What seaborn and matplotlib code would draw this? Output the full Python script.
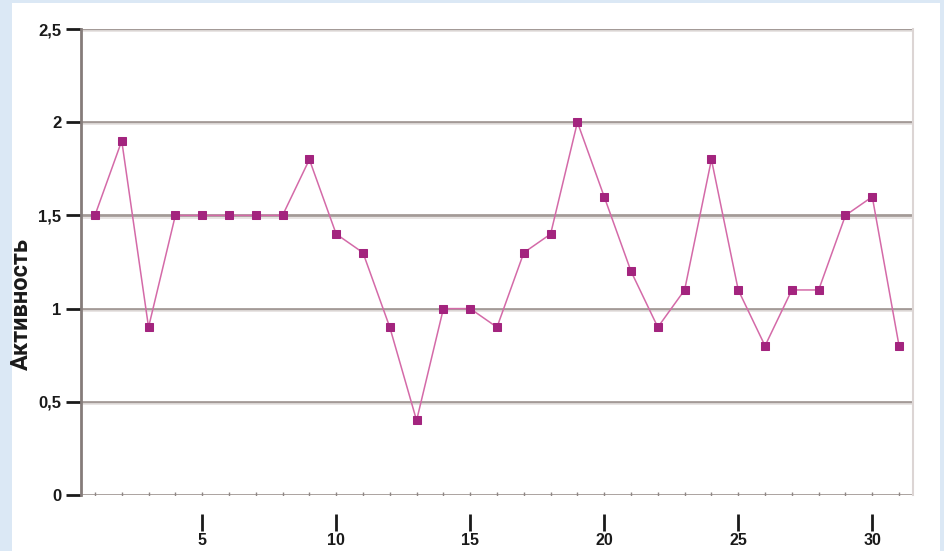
import matplotlib
matplotlib.use("Agg")
import matplotlib.pyplot as plt
import matplotlib.patches as mpatches
import seaborn as sns
import pandas as pd

days = list(range(1, 32))
activity = [1.5, 1.9, 0.9, 1.5, 1.5, 1.5, 1.5, 1.5, 1.8, 1.4, 1.3, 0.9, 0.4,
            1.0, 1.0, 0.9, 1.3, 1.4, 2.0, 1.6, 1.2, 0.9, 1.1, 1.8, 1.1, 0.8,
            1.1, 1.1, 1.5, 1.6, 0.8]
x_ticks = [5, 10, 15, 20, 25, 30]
y_ticks = [0, 0.5, 1, 1.5, 2, 2.5]
y_tick_labels = ["0", "0,5", "1", "1,5", "2", "2,5"]
y_title = "Активность"

df = pd.DataFrame({"day": days, "activity": activity})

sns.set_theme(style="white")
plt.rcParams["font.family"] = ["Liberation Sans Narrow", "Liberation Sans", "DejaVu Sans"]

fig = plt.figure(figsize=(9.45, 5.51), dpi=100, facecolor="#dbe8f5")
fig.patches.append(mpatches.Rectangle((12 / 945, 0), (940 - 12) / 945, 1 - 3 / 551,
                                      transform=fig.transFigure, facecolor="white",
                                      edgecolor="none", zorder=-5))
ax = fig.add_axes([81 / 945, 1 - 495 / 551, (913 - 81) / 945, (495 - 29) / 551])
ax.set_zorder(2)
ax.set_facecolor("white")

ax.spines["top"].set_visible(False)
ax.spines["left"].set_color("#857c7a")
ax.spines["left"].set_linewidth(2)
ax.spines["right"].set_color("#dcd5d4")
ax.spines["right"].set_linewidth(1.5)
ax.spines["bottom"].set_position(("outward", 14))
ax.spines["bottom"].set_visible(False)

# grid lines
for yv in y_ticks:
    ax.axhline(yv, color="#a39a97", lw=2.0, zorder=1)
    ax.axhline(yv - 0.012, color="#e4dfde", lw=1.2, zorder=1)

# faint minor ticks along baseline
ax.scatter(days, [0] * len(days), marker="|", s=16, color="#8f8785", linewidths=1, zorder=2)

sns.lineplot(data=df, x="day", y="activity", ax=ax, color="#d46aa8", lw=1.1,
             marker="s", markersize=5.5, markerfacecolor="#a3247e",
             markeredgecolor="#a3247e", zorder=3)

ax.set_xlim(0.48, 31.52)
ax.set_ylim(0, 2.5)

ax.set_yticks(y_ticks)
ax.set_yticklabels(y_tick_labels, fontsize=12, fontweight="bold", color="#1a1a1a")
ax.set_xticks(x_ticks)
ax.set_xticklabels([str(v) for v in x_ticks], fontsize=11.5, fontweight="bold", color="#1a1a1a")

ax.tick_params(axis="y", direction="out", length=11, width=2, color="#1a1a1a", pad=3, left=True)
ax.tick_params(axis="x", direction="out", length=12, width=2, color="#1a1a1a", pad=1.5, bottom=True)

ax.set_xlabel("")
ax.set_ylabel(y_title, fontsize=17, fontweight="bold", color="#1a1a1a",
              family=["Roboto", "Liberation Sans", "DejaVu Sans"])
ax.yaxis.set_label_coords(-0.058, 0.41)

fig.savefig("out.png", dpi=100, facecolor=fig.get_facecolor())
